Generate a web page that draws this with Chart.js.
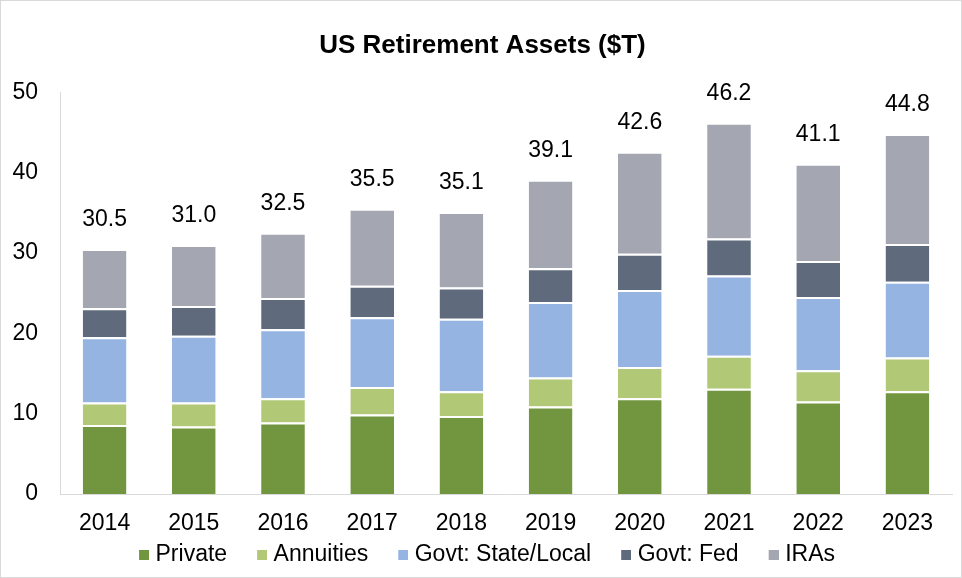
<!DOCTYPE html>
<html>
<head>
<meta charset="utf-8">
<script src="https://cdn.jsdelivr.net/npm/chart.js@4.4.0/dist/chart.umd.min.js"></script>
<style>
    html, body { margin: 0; padding: 0; background: #fff; }
    #wrap { width: 962px; height: 578px; box-sizing: border-box; border: 1px solid #d9d9d9; }
</style>
</head>
<body>
<div id="wrap"><canvas id="assetsChart" width="960" height="576"></canvas></div>
<script>
// Roky (osa X)
const years = ['2014', '2015', '2016', '2017', '2018', '2019', '2020', '2021', '2022', '2023'];

// Hodnoty jednotlivých složek ($T)
const privateVals = [8.6, 8.4, 8.9, 9.9, 9.7, 10.9, 11.9, 13.1, 11.5, 12.8];
const annuities = [2.8, 3.0, 3.0, 3.4, 3.1, 3.6, 3.9, 4.1, 3.9, 4.2];
const govtStateLocal = [8.1, 8.3, 8.6, 8.7, 9.0, 9.4, 9.6, 10.0, 9.1, 9.4];
const govtFed = [3.6, 3.7, 3.9, 3.9, 3.9, 4.2, 4.5, 4.6, 4.5, 4.7];
const iras = [7.4, 7.6, 8.1, 9.6, 9.4, 11.0, 12.7, 14.4, 12.1, 13.7];

// Popisky osy Y
const yTicks = [0, 10, 20, 30, 40, 50];

const font = 'Liberation Sans, Arial, sans-serif';
const colors = ['#72963f', '#b1c877', '#95b4e1', '#5f6b7c', '#a4a6b1'];

// Čtvereček legendy jako malý canvas (posunutý blíž k textu)
const LEG_W = 30;
function legendSquare(color) {
    const c = document.createElement('canvas');
    c.width = LEG_W + 10;
    c.height = 10;
    const g = c.getContext('2d');
    g.fillStyle = color;
    g.fillRect(LEG_W, 0, 10, 10);
    return c;
}
const legendIcons = colors.map(legendSquare);

// Součty nad sloupci
const totalsPlugin = {
    id: 'totals',
    afterLayout(chart) {
        // titulek je v originále vystředěný na celý obrázek
        chart.titleBlock.left += 16;
    },
    afterDatasetsDraw(chart) {
        const ctx = chart.ctx;
        const lastMeta = chart.getDatasetMeta(chart.data.datasets.length - 1);
        ctx.save();
        ctx.font = '23px ' + font;
        ctx.fillStyle = '#000';
        ctx.textAlign = 'center';
        ctx.textBaseline = 'alphabetic';
        years.forEach((y, i) => {
            const total = chart.data.datasets.reduce((sum, ds) => sum + ds.data[i], 0);
            const bar = lastMeta.data[i];
            ctx.fillText(total.toFixed(1), bar.x, bar.y - 23);
        });
        ctx.restore();
    }
};

function series(label, data, color) {
    return {
        label: label,
        data: data,
        backgroundColor: color,
        borderColor: '#ffffff',
        borderWidth: { top: 2, bottom: 0, left: 0, right: 0 },
        borderSkipped: false,
        categoryPercentage: 0.49,
        barPercentage: 1.0
    };
}

const ctx = document.getElementById('assetsChart').getContext('2d');
new Chart(ctx, {
    type: 'bar',
    data: {
        labels: years,
        datasets: [
            series('Private', privateVals, colors[0]),
            series('Annuities', annuities, colors[1]),
            series('Govt: State/Local', govtStateLocal, colors[2]),
            series('Govt: Fed', govtFed, colors[3]),
            series('IRAs', iras, colors[4])
        ]
    },
    plugins: [totalsPlugin],
    options: {
        responsive: false,
        animation: false,
        layout: { padding: { left: -4, right: 9, top: 0, bottom: 1 } },
        plugins: {
            title: {
                display: true,
                text: 'US Retirement Assets ($T)',
                color: '#000',
                font: { family: font, size: 26, weight: 'bold' },
                padding: { top: 29, bottom: 31 }
            },
            legend: {
                position: 'bottom',
                labels: {
                    color: '#000',
                    font: { family: font, size: 23 },
                    usePointStyle: true,
                    pointStyleWidth: LEG_W,
                    boxHeight: 10,
                    padding: 5,
                    generateLabels(chart) {
                        const items = Chart.defaults.plugins.legend.labels.generateLabels(chart);
                        items.forEach((item, i) => { item.pointStyle = legendIcons[i]; });
                        return items;
                    }
                }
            },
            tooltip: { enabled: false }
        },
        scales: {
            x: {
                stacked: true,
                afterFit(scale) { scale.height = 44; },
                grid: { display: false, drawTicks: false },
                border: { display: true, color: '#d9d9d9', width: 1 },
                ticks: { color: '#000', font: { family: font, size: 23 }, padding: 16 }
            },
            y: {
                stacked: true,
                min: 0,
                max: 50,
                afterFit(scale) { scale.width = 63; },
                afterBuildTicks(scale) { scale.ticks = yTicks.map(v => ({ value: v })); },
                grid: { display: false, drawTicks: false },
                border: { display: true, color: '#d9d9d9', width: 1 },
                ticks: { color: '#000', font: { family: font, size: 23 }, padding: 22 }
            }
        }
    }
});
</script>
</body>
</html>
